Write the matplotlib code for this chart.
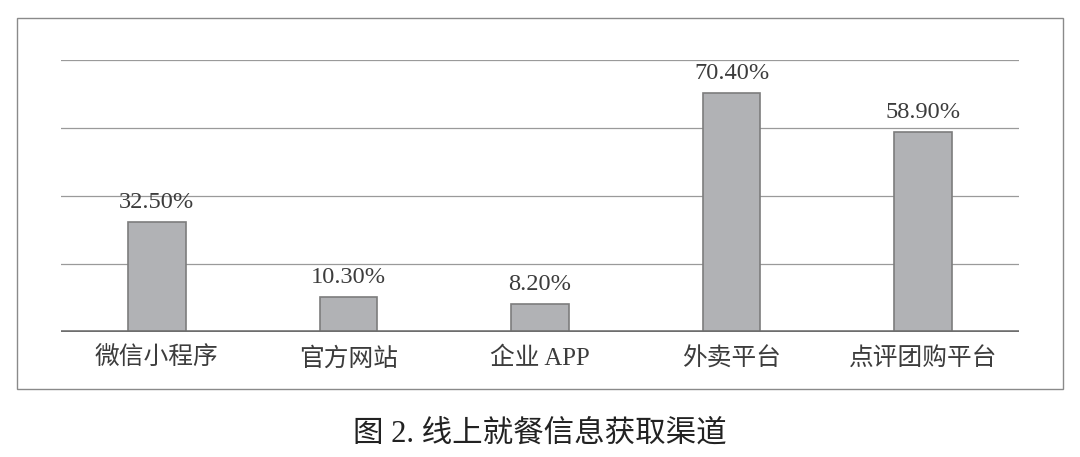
import matplotlib
matplotlib.use("Agg")
import matplotlib.pyplot as plt
from matplotlib.patches import Rectangle

categories = ["微信小程序", "官方网站", "企业 APP", "外卖平台", "点评团购平台"]
values = [32.5, 10.3, 8.2, 70.4, 58.9]
value_labels = ["32.50%", "10.30%", "8.20%", "70.40%", "58.90%"]
grid_ticks = [20, 40, 60, 80]
caption = "图 2. 线上就餐信息获取渠道"

FONT = ["Liberation Serif", "Noto Sans CJK SC", "DejaVu Sans"]
TEXT_COLOR = "#3c3c3c"

fig = plt.figure(figsize=(10.8, 4.57), dpi=100)
ax = fig.add_axes([61 / 1080, 1 - 332 / 457, 958 / 1080, 272 / 457])

# outer frame around the chart
fig.patches.append(Rectangle((17 / 1080, 1 - 389 / 457), 1046 / 1080, 371 / 457,
                             transform=fig.transFigure, fill=False,
                             edgecolor="#8a8a8a", linewidth=1.0))

x = list(range(len(categories)))
for g in grid_ticks:
    ax.axhline(g, color="#9a9a9a", linewidth=0.9, zorder=0)

ax.bar(x, values, width=0.3, color="#b1b2b5", edgecolor="#7d7d7d",
       linewidth=1.2, zorder=2)
ax.axhline(0, color="#6e6e6e", linewidth=2.6, zorder=3)

for xi, v, lab in zip(x, values, value_labels):
    ax.text(xi, v + 2.6, lab, ha="center", va="bottom", fontsize=17.6,
            family=FONT, color=TEXT_COLOR, clip_on=False, zorder=4)

ax.set_xlim(-0.5, len(categories) - 0.5)
ax.set_ylim(0, 80)
ax.set_xticks(x)
ax.set_xticklabels(categories, fontsize=17.8, family=FONT, color=TEXT_COLOR)
ax.tick_params(axis="x", length=0, pad=11)
ax.set_yticks([])
for s in ax.spines.values():
    s.set_visible(False)

fig.text(0.5, 1 - 434 / 457, caption, ha="center", va="center",
         fontsize=22, family=FONT, color="#222222")

fig.savefig("out.png", dpi=100)
